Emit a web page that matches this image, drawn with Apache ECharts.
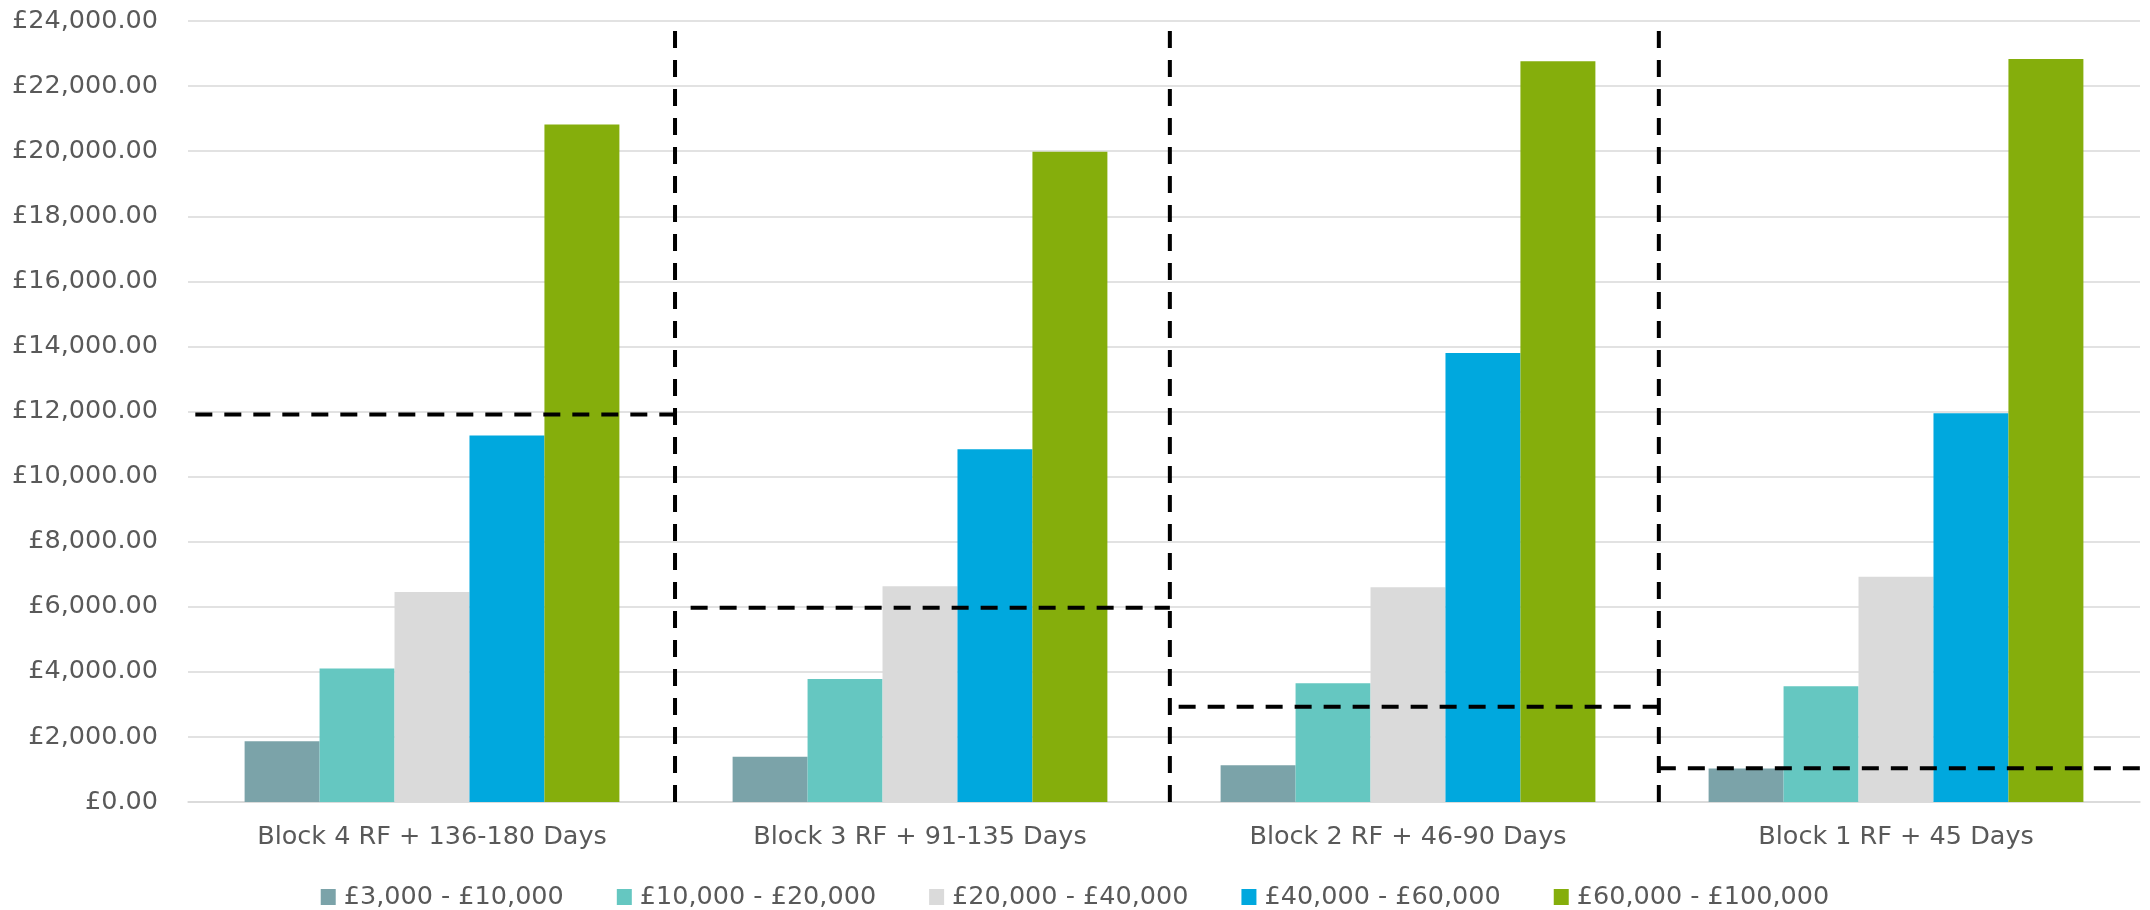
<!DOCTYPE html>
<html>
<head>
<meta charset="utf-8">
<title>Block RF bands</title>
<script src="https://cdn.jsdelivr.net/npm/echarts@6/dist/echarts.min.js"></script>
<style>
  html, body { margin: 0; padding: 0; background: #ffffff; }
  #chart { width: 2150px; height: 910px; }
</style>
</head>
<body>
<div id="chart"></div>
<script>
// Categories along the x axis
const categories = [
  'Block 4 RF + 136-180 Days',
  'Block 3 RF + 91-135 Days',
  'Block 2 RF + 46-90 Days',
  'Block 1 RF + 45 Days'
];

// Band names (legend order)
const bandNames = [
  '£3,000 - £10,000',
  '£10,000 - £20,000',
  '£20,000 - £40,000',
  '£40,000 - £60,000',
  '£60,000 - £100,000'
];

// Values per band, one entry per block
const band3to10k   = [1870, 1390, 1130, 1030];
const band10to20k  = [4100, 3780, 3650, 3560];
const band20to40k  = [6450, 6630, 6600, 6920];
const band40to60k  = [11260, 10840, 13800, 11950];
const band60to100k = [20820, 19980, 22760, 22830];

const bandColors = ['#7BA3A9', '#65C7C1', '#DADADA', '#00A8DE', '#85AE0C'];

// Y axis ticks
const yMin = 0;
const yMax = 24000;
const yStep = 2000;

// Threshold steps drawn as dashed lines on a 0..4 block scale
const thresholdStart = [0.015, 1.03, 2.03, 3.014];
const thresholdEnd   = [0.998, 2.012, 3.014, 4.0];
const thresholdLevel = [11910, 5970, 2930, 1040];
// Block dividers (full height)
const dividerX = [0.998, 2.012, 3.014];

const bandValues = [band3to10k, band10to20k, band20to40k, band40to60k, band60to100k];

const FONT = 'DejaVu Sans';
const TEXT = '#595959';

function gbp(v) {
  const fixed = Math.abs(v).toFixed(2);
  const parts = fixed.split('.');
  const whole = parts[0].replace(/\B(?=(\d{3})+(?!\d))/g, ',');
  return '£' + whole + '.' + parts[1];
}

const dashStyle = { color: '#000000', width: 4, type: [17, 12], cap: 'butt' };

const series = bandNames.map((name, i) => ({
  name: name,
  type: 'bar',
  xAxisIndex: 0,
  yAxisIndex: 0,
  data: bandValues[i],
  barGap: '0%',
  barCategoryGap: '23.2%',
  itemStyle: { color: bandColors[i] },
  emphasis: { disabled: true },
  z: 2
}));

thresholdLevel.forEach((lvl, i) => {
  series.push({
    type: 'line',
    xAxisIndex: 1,
    yAxisIndex: 0,
    data: [[thresholdStart[i], lvl], [thresholdEnd[i], lvl]],
    showSymbol: false,
    symbol: 'none',
    silent: true,
    animation: false,
    lineStyle: dashStyle,
    z: 5
  });
});

dividerX.forEach((x) => {
  series.push({
    type: 'line',
    xAxisIndex: 1,
    yAxisIndex: 0,
    data: [[x, yMin], [x, yMax]],
    showSymbol: false,
    symbol: 'none',
    silent: true,
    animation: false,
    lineStyle: dashStyle,
    z: 5
  });
});

const chart = echarts.init(document.getElementById('chart'), null, { renderer: 'canvas' });
chart.setOption({
  animation: false,
  backgroundColor: '#ffffff',
  textStyle: { fontFamily: FONT },
  grid: { left: 188, right: 10, top: 21, bottom: 108, containLabel: false },
  legend: {
    data: bandNames,
    left: 'center',
    top: 879,
    itemWidth: 15,
    itemHeight: 16,
    itemGap: 53,
    icon: 'rect',
    textStyle: { fontFamily: FONT, fontSize: 25.5, color: TEXT, padding: [0, 0, 0, 3] }
  },
  xAxis: [
    {
      type: 'category',
      data: categories,
      axisLine: { show: true, lineStyle: { color: '#d9d9d9', width: 1.5 } },
      axisTick: { show: false },
      axisLabel: { fontFamily: FONT, fontSize: 25.5, color: TEXT, margin: 22 },
      splitLine: { show: false }
    },
    {
      type: 'value',
      min: 0,
      max: 4,
      show: false,
      splitLine: { show: false }
    }
  ],
  yAxis: {
    type: 'value',
    min: yMin,
    max: yMax,
    interval: yStep,
    axisLine: { show: false },
    axisTick: { show: false },
    axisLabel: { fontFamily: FONT, fontSize: 25.5, color: TEXT, margin: 30, formatter: gbp },
    splitLine: { lineStyle: { color: '#d9d9d9', width: 1.5 } }
  },
  series: series
});
</script>
</body>
</html>
